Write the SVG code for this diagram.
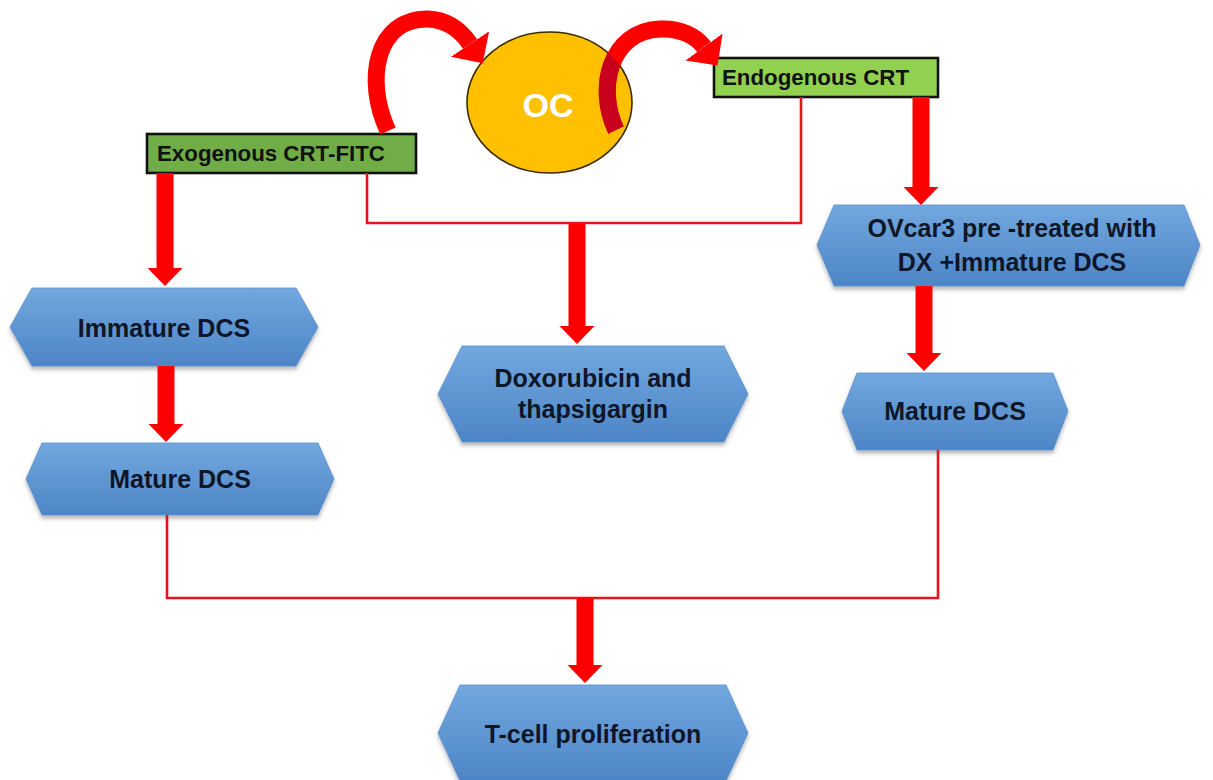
<svg xmlns="http://www.w3.org/2000/svg" width="1213" height="780" viewBox="0 0 1213 780">
  <defs>
    <style>
      .hex { fill: url(#blueFill); stroke: #5a8fcf; stroke-width: 0.8; filter: url(#soft); }
      .hexText { font-family: "Liberation Sans", Arial, sans-serif; font-weight: bold; font-size: 25px; fill: #0e1628; text-anchor: middle; }
      .tag { stroke: #111; stroke-width: 2.6; }
      .tagText { font-family: "Liberation Sans", Arial, sans-serif; font-weight: bold; font-size: 22.3px; fill: #111; }
      .wire { fill: none; stroke: #e3141d; stroke-width: 2.6; }
      .fat { fill: none; stroke: #ff0000; stroke-width: 17; marker-end: url(#head); }
      .curve { fill: none; stroke: #ff0000; stroke-width: 17; }
    </style>
    <linearGradient id="blueFill" x1="0" y1="0" x2="0" y2="1">
      <stop offset="0" stop-color="#72a8df"/>
      <stop offset="1" stop-color="#4d85c6"/>
    </linearGradient>
    <filter id="soft" x="-5%" y="-10%" width="110%" height="130%">
      <feDropShadow dx="0" dy="3" stdDeviation="2" flood-color="#000" flood-opacity="0.3"/>
    </filter>
    <marker id="head" markerUnits="userSpaceOnUse" markerWidth="20" markerHeight="38" viewBox="0 -19 20 38" refX="0" refY="0" orient="auto">
      <path d="M0,-17.5 L18,0 L0,17.5 Z" fill="#ff0000"/>
    </marker>
    <marker id="bigHead" markerUnits="userSpaceOnUse" markerWidth="28" markerHeight="50" viewBox="0 -25 28 50" refX="0" refY="0" orient="auto">
      <path d="M0,-23 L23,0 L0,23 Z" fill="#ff0000"/>
    </marker>
    <clipPath id="ocClip">
      <ellipse cx="549.5" cy="102.5" rx="82.5" ry="70.5"/>
    </clipPath>
  </defs>

  <rect width="1213" height="780" fill="#ffffff"/>

  <!-- nodes -->
  <g id="oc">
    <ellipse cx="549.5" cy="102.5" rx="82.5" ry="70.5" fill="#ffc000" stroke="#3a2a00" stroke-width="1.6"/>
    <text x="548" y="117" font-family="Liberation Sans, Arial, sans-serif" font-weight="bold" font-size="34" fill="#ffffff" text-anchor="middle">OC</text>
  </g>

  <g id="exogenous">
    <rect class="tag" x="147" y="134" width="269" height="39" fill="#70ad47"/>
    <text class="tagText" x="157" y="161">Exogenous CRT-FITC</text>
  </g>

  <g id="endogenous">
    <rect class="tag" x="714" y="58" width="224" height="39" fill="#92d050"/>
    <text class="tagText" x="722" y="85">Endogenous CRT</text>
  </g>

  <g id="immature-dcs">
    <polygon class="hex" points="10,327 32,288 296,288 318,327 296,366 32,366"/>
    <text class="hexText" x="164" y="337">Immature DCS</text>
  </g>

  <g id="mature-dcs-left">
    <polygon class="hex" points="26,479 42,443 318,443 334,479 318,515 42,515"/>
    <text class="hexText" x="180" y="488">Mature DCS</text>
  </g>

  <g id="doxorubicin">
    <polygon class="hex" points="438,394 462,346 724,346 748,394 724,442 462,442"/>
    <text class="hexText" x="593" y="387">Doxorubicin and</text>
    <text class="hexText" x="593" y="418">thapsigargin</text>
  </g>

  <g id="ovcar3">
    <polygon class="hex" points="817,245 834,205 1184,205 1200,245 1184,286 834,286"/>
    <text class="hexText" x="1012" y="237">OVcar3 pre -treated with</text>
    <text class="hexText" x="1012" y="271">DX +Immature DCS</text>
  </g>

  <g id="mature-dcs-right">
    <polygon class="hex" points="842,411 857,373 1053,373 1068,411 1053,450 857,450"/>
    <text class="hexText" x="955" y="420">Mature DCS</text>
  </g>

  <g id="t-cell">
    <polygon class="hex" points="438,733 460,685 726,685 748,733 726,781 460,781"/>
    <text class="hexText" x="593" y="743">T-cell proliferation</text>
  </g>

  <!-- connectors -->
  <g id="connectors">
    <path class="wire" d="M367 173 V223 H801 V97"/>
    <path class="wire" d="M167 515 V598 H938 V450"/>

    <line class="fat" x1="165" y1="173" x2="165" y2="268"/>
    <line class="fat" x1="166" y1="366" x2="166" y2="424"/>
    <line class="fat" x1="577" y1="224" x2="577" y2="326"/>
    <line class="fat" x1="921" y1="97" x2="921" y2="187"/>
    <line class="fat" x1="924" y1="286" x2="924" y2="353"/>
    <line class="fat" x1="585" y1="598" x2="585" y2="665"/>

    <!-- exogenous to OC -->
    <path class="curve" d="M388 131 C364 80 376 18 428 19 C450 20 462 32 470 44" marker-end="url(#bigHead)"/>
    <!-- OC to endogenous -->
    <path class="curve" d="M616 130 C596 88 610 31 660 29 C680 28 696 36 704 47" marker-end="url(#bigHead)"/>
    <path d="M616 130 C596 88 610 31 660 29" fill="none" stroke="#c8001c" stroke-width="17" clip-path="url(#ocClip)"/>
  </g>
</svg>
